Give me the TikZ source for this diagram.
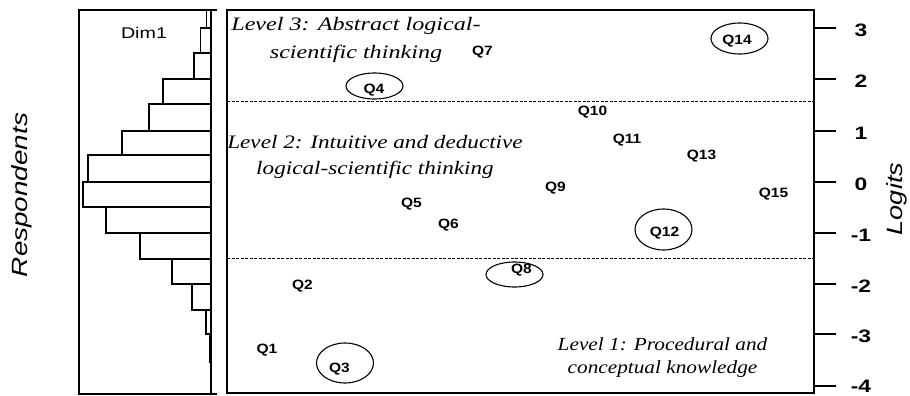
\documentclass[tikz,border=0pt]{standalone}
\usepackage{fontspec}
\setmainfont{Liberation Serif}
\setsansfont{Liberation Sans}
\usetikzlibrary{shapes.geometric}
\begin{document}
\begin{tikzpicture}[x=1pt,y=-1pt,
  qlab/.style={font=\sffamily\bfseries\fontsize{13.5}{13.5}\selectfont, inner sep=0pt, xscale=1.15},
  ring/.style={draw, ellipse, line width=1.1pt, inner sep=0pt},
  lvl/.style={font=\itshape, align=center, inner sep=0pt, anchor=north},
  frame/.style={line width=1.5pt},
  bar/.style={line width=1.2pt},
  limit/.style={dash pattern=on 3pt off 1.5pt, line width=0.9pt},
  num/.style={font=\sffamily\bfseries\fontsize{18}{18}\selectfont, inner sep=0pt, xscale=1.27},
  tick/.style={line width=1.3pt}]
\useasboundingbox (0,0) rectangle (910,396);

% ---- left panel: histogram of respondents ----
\foreach \ya/\yb/\xl in {10/28/206.5, 28/53/200.7, 53/79/194, 79/104/163, 104/131/149,
  131/155/122, 155/182/88, 182/207/83, 207/233/106, 233/259/140, 259/284/172,
  284/310/192, 310/334/206, 334/362/209.5}
  \draw[bar] (\xl,\ya) rectangle (211,\yb);
\draw[frame] (79,10) rectangle (211,394);
\draw[frame] (211,10) -- (217,10);
\draw[frame] (211,394) -- (217,394);
\node[font=\sffamily\fontsize{15.5}{15.5}\selectfont, inner sep=0pt, xscale=1.27] (dim) at (144,33) {Dim1};
\node[font=\sffamily\itshape\fontsize{22}{22}\selectfont, inner sep=0pt, rotate=90, xscale=1.265] (resp) at (22,195) {Respondents};

% ---- main panel ----
\coordinate (ul) at (227,101);
\coordinate (ur) at (814,101);
\coordinate (ll) at (227,258.5);
\coordinate (lr) at (814,258.5);
\draw[limit] (ul) -- (ur);
\draw[limit] (ll) -- (lr);
\draw[frame] (227,10) rectangle (814,393);

% ticks and axis labels
\foreach \v/\yy/\ly in {3/28/30, 2/79/81, 1/131/133, 0/182/184, -1/233/235, -2/284/286, -3/334/336, -4/386/386}{
  \coordinate (ta\v) at (814,\yy);
  \coordinate (tb\v) at (836,\yy);
  \draw[tick] (ta\v) -- (tb\v);
  \node[num] (lab\v) at (861,\ly) {\v};
}
\node[font=\sffamily\itshape\fontsize{22}{22}\selectfont, inner sep=0pt, rotate=90, xscale=1.23] (logits) at (897,199) {Logits};

% level descriptions
\node[lvl, font=\itshape\fontsize{19}{28}\selectfont, xscale=1.27] (lev3) at (356,17)
  {Level 3: Abstract logical-\\scientific thinking};
\node[lvl, font=\itshape\fontsize{19}{26}\selectfont, xscale=1.22] (lev2) at (375,135)
  {Level 2: Intuitive and deductive\\logical-scientific thinking};
\node[lvl, font=\itshape\fontsize{18.5}{23}\selectfont, xscale=1.15] (lev1) at (662.5,337.5)
  {Level 1: Procedural and\\conceptual knowledge};

% items
\node[qlab] (q1) at (267,350.5) {Q1};
\node[qlab] (q2) at (302.5,286.5) {Q2};
\node[qlab] (q3) at (339.5,369.5) {Q3};
\node[qlab] (q4) at (374,90) {Q4};
\node[qlab] (q5) at (411.5,204) {Q5};
\node[qlab] (q6) at (448.5,225) {Q6};
\node[qlab] (q7) at (482.5,52) {Q7};
\node[qlab] (q8) at (521.5,270) {Q8};
\node[qlab] (q9) at (555.5,188) {Q9};
\node[qlab] (q10) at (592.5,112) {Q10};
\node[qlab] (q11) at (627,140) {Q11};
\node[qlab] (q12) at (664.5,233) {Q12};
\node[qlab] (q13) at (701.5,156.5) {Q13};
\node[qlab] (q14) at (737,41.5) {Q14};
\node[qlab] (q15) at (773.5,194) {Q15};

% rings
\node[ring, minimum width=57pt, minimum height=40pt] (e3) at (345,363) {};
\node[ring, minimum width=57pt, minimum height=26pt] (e4) at (374.5,86) {};
\node[ring, minimum width=57pt, minimum height=25pt] (e8) at (514.5,274.5) {};
\node[ring, minimum width=57pt, minimum height=41pt] (e12) at (663.5,229.5) {};
\node[ring, minimum width=57pt, minimum height=31pt] (e14) at (739.5,38.5) {};
\end{tikzpicture}
\end{document}
